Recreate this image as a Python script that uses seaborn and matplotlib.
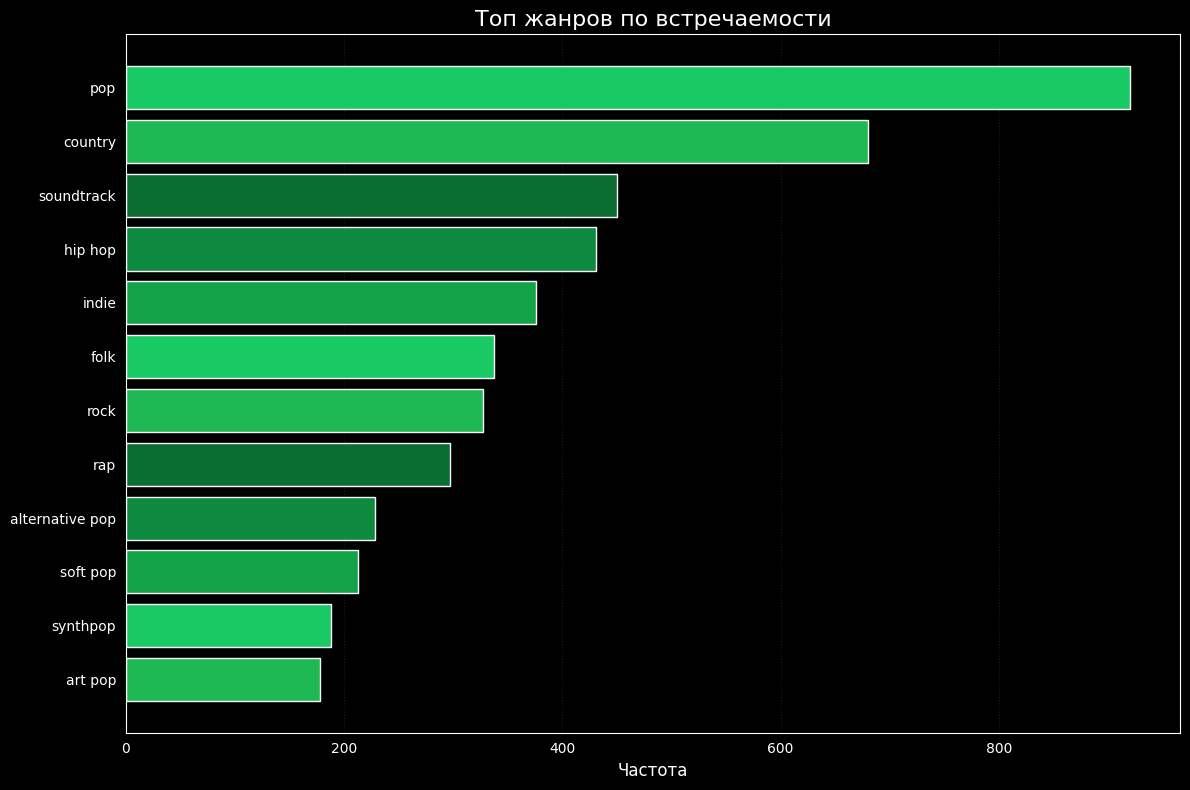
import seaborn as sns
import matplotlib.pyplot as plt
import pandas as pd

# Data
genres = ["pop", "country", "soundtrack", "hip hop", "indie", "folk", "rock",
          "rap", "alternative pop", "soft pop", "synthpop", "art pop"]
counts = [920, 680, 450, 431, 376, 337, 327, 297, 228, 213, 188, 178]
greens = ["#18C964", "#1EB954", "#0A6E33", "#0E8A3E", "#13A349"]

df = pd.DataFrame({"genre": genres, "count": counts})
palette = [greens[i % len(greens)] for i in range(len(genres))]

plt.style.use("dark_background")
plt.rcParams["font.family"] = ["DejaVu Sans"]

fig, ax = plt.subplots(figsize=(12, 8))
sns.barplot(data=df, x="count", y="genre", hue="genre", palette=palette,
            orient="h", width=0.8, saturation=1, edgecolor="white",
            linewidth=1, legend=False, ax=ax)

# matplotlib-like margins around the bars
n = len(genres)
pad = 0.05 * (n - 0.2)
ax.set_ylim(n - 0.6 + pad, -0.4 - pad)

ax.set_title("Топ жанров по встречаемости", fontsize=16, color="white")
ax.set_xlabel("Частота", fontsize=12)
ax.set_ylabel("")
ax.tick_params(width=0)
ax.grid(axis="x", color="#1DB954", linestyle=":", alpha=0.2)
ax.set_axisbelow(True)

plt.tight_layout()
plt.savefig("out.png", dpi=100, bbox_inches="tight")
